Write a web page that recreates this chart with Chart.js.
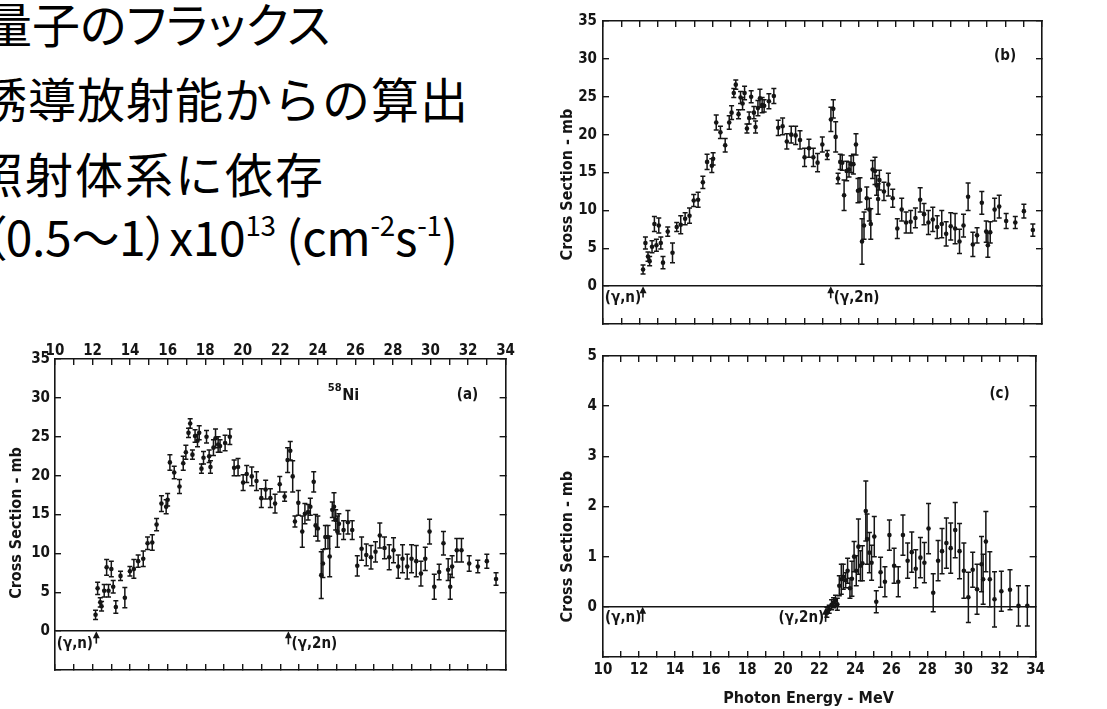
<!DOCTYPE html>
<html>
<head>
<meta charset="utf-8">
<script src="https://cdn.jsdelivr.net/npm/chart.js@4.4.0/dist/chart.umd.min.js"></script>
<style>
html, body { margin: 0; padding: 0; background: #fff; }
body { width: 1107px; height: 709px; position: relative; overflow: hidden; }
.jp { position: absolute; white-space: nowrap; font-family: "Noto Sans CJK JP", sans-serif; font-size: 48px; line-height: 1; color: #000; }
.jp sup { font-size: 0.58em; vertical-align: baseline; position: relative; top: -0.72em; }
.palt { font-feature-settings: "palt"; }
canvas { position: absolute; }
</style>
</head>
<body>
<div class="jp palt" style="left:-16px; top:-2px">量子のフラックス</div>
<div class="jp" style="left:-21px; top:73px; letter-spacing:1px">誘導放射能からの算出</div>
<div class="jp" style="left:-25px; top:148px; letter-spacing:2px">照射体系に依存</div>
<div class="jp palt" style="left:-18px; top:211px; letter-spacing:-0.3px">（0.5〜1）x10<sup>13</sup> (cm<sup>-2</sup>s<sup>-1</sup>)</div>

<canvas id="chartA" width="520" height="389" style="left:0; top:320px"></canvas>
<canvas id="chartB" width="510" height="345" style="left:545px; top:0"></canvas>
<canvas id="chartC" width="510" height="374" style="left:545px; top:335px"></canvas>

<script>
// (a) 58Ni total photoneutron cross section
const aEnergy = [12.16,12.27,12.41,12.48,12.62,12.75,12.85,13.0,13.1,13.24,
    13.49,13.72,13.99,14.2,14.43,14.7,14.93,15.18,15.41,15.67,
    15.92,16.0,16.12,16.35,16.63,16.83,16.97,17.11,17.2,17.32,
    17.46,17.59,17.68,17.8,17.91,18.07,18.21,18.28,18.44,18.55,
    18.69,18.79,19.06,19.31,19.54,19.75,20.02,20.21,20.48,20.73,
    20.99,21.22,21.47,21.72,21.97,22.23,22.39,22.53,22.66,22.78,
    22.96,23.17,23.31,23.48,23.6,23.78,23.88,24.0,24.18,24.27,
    24.4,24.54,24.63,24.77,24.86,24.95,25.04,25.12,25.37,25.6,
    25.83,26.1,26.33,26.58,26.83,27.07,27.3,27.55,27.8,28.03,
    28.28,28.51,28.76,28.99,29.24,29.49,29.72,29.95,30.2,30.46,
    30.69,30.94,31.05,31.15,31.4,31.65,32.06,32.52,33.0,33.49];
const aSigma = [2.1,5.5,3.7,3.2,5.2,8.2,5.2,8.0,5.7,3.1,
    7.1,4.3,7.7,8.0,9.0,9.3,11.3,11.4,13.7,16.4,
    16.0,16.9,21.7,20.4,18.6,21.6,23.0,25.5,26.7,22.7,
    25.1,24.5,25.5,20.9,22.3,25.0,22.5,21.1,23.6,24.8,
    24.0,23.8,24.2,25.0,21.0,21.1,19.1,20.2,19.9,19.3,
    17.1,18.2,17.1,16.4,18.9,17.3,22.0,23.2,19.9,14.1,
    16.5,12.8,15.1,15.3,16.0,19.2,13.6,13.2,7.2,8.7,
    12.1,12.1,9.6,15.6,16.0,14.3,12.8,13.8,13.0,14.0,
    13.0,8.4,10.6,9.8,9.5,10.2,12.3,10.7,9.5,10.4,
    8.3,9.3,8.3,9.3,9.0,7.4,9.3,12.8,5.7,7.6,
    11.3,7.9,5.7,8.3,10.4,10.4,8.7,8.3,9.0,6.7];
const aError = [0.6,0.8,0.6,0.6,0.8,1.0,0.8,1.0,0.8,0.8,
    0.6,1.3,0.6,1.2,0.8,1.0,0.8,1.0,0.8,1.0,
    0.9,0.8,1.0,0.8,0.9,0.9,0.9,0.6,0.6,0.6,
    0.8,0.8,0.9,0.6,0.8,0.8,0.8,0.8,1.0,1.2,
    1.0,0.8,1.0,1.0,1.0,1.1,1.0,1.1,1.2,1.2,
    1.2,1.2,1.2,1.2,1.0,0.6,1.6,1.2,2.0,0.7,
    1.6,2.0,1.3,1.0,1.1,1.3,1.4,1.6,3.0,1.8,
    1.5,1.5,2.6,1.0,1.8,1.3,2.0,1.3,1.2,1.5,
    1.2,1.3,1.5,1.4,1.5,1.3,1.6,1.4,1.6,1.6,
    1.5,1.8,1.6,1.8,2.0,1.6,1.5,1.6,1.6,1.0,
    1.5,1.4,1.6,1.4,1.5,1.5,1.0,0.8,0.9,0.8];

// (b) (γ,n)
const bEnergy = [12.19,12.32,12.46,12.55,12.68,12.81,12.92,13.05,13.16,13.28,
    13.54,13.8,14.03,14.25,14.49,14.73,14.96,15.2,15.46,15.69,
    15.95,16.02,16.19,16.42,16.68,16.9,17.03,17.15,17.26,17.41,
    17.52,17.63,17.74,17.87,17.99,18.1,18.25,18.34,18.47,18.58,
    18.7,18.81,19.07,19.34,19.58,19.82,20.05,20.29,20.53,20.77,
    21.02,21.26,21.5,21.73,21.99,22.26,22.46,22.59,22.72,22.85,
    22.97,23.08,23.18,23.32,23.45,23.56,23.69,23.83,23.94,24.05,
    24.16,24.27,24.42,24.56,24.64,24.74,24.87,24.96,25.04,25.11,
    25.36,25.6,25.84,26.09,26.33,26.57,26.82,27.08,27.34,27.55,
    27.79,28.03,28.27,28.52,28.76,29.01,29.25,29.49,29.71,29.96,
    30.22,30.45,30.71,30.95,31.04,31.17,31.41,31.66,32.04,32.54,
    33.01,33.5];
const bSigma = [2.2,5.7,3.9,3.3,5.2,8.2,5.4,8.0,5.7,3.1,
    7.2,4.4,7.8,8.1,8.9,9.3,11.3,11.4,13.7,16.4,
    15.9,16.8,21.6,20.3,18.6,21.6,22.9,25.5,26.6,22.7,
    24.9,24.1,25.5,20.8,22.2,25.0,22.9,21.0,23.5,24.8,
    23.9,23.8,24.4,25.1,20.9,21.1,19.1,20.0,19.9,19.3,
    17.0,18.2,17.0,16.3,18.7,17.3,22.0,23.4,19.7,14.2,
    16.4,16.3,12.0,15.2,15.4,16.1,16.1,18.7,12.6,12.7,
    5.9,8.0,11.6,10.1,8.2,15.4,15.2,13.3,11.5,14.0,
    12.5,13.4,11.6,7.6,10.1,8.4,8.5,9.0,11.4,9.5,
    8.4,8.8,7.8,8.2,6.9,7.9,7.6,5.9,8.0,11.8,
    5.5,6.7,11.0,7.2,5.4,7.1,10.1,10.5,8.6,8.4,
    9.9,7.4];
const bError = [0.6,0.8,0.6,0.6,0.8,1.0,0.8,1.0,0.8,0.8,
    0.6,1.3,0.6,1.2,0.8,1.0,0.8,1.0,0.8,1.0,
    0.9,0.8,1.0,0.8,0.9,0.9,0.9,0.6,0.6,0.6,
    0.8,0.8,0.9,0.6,0.8,0.8,0.8,0.8,1.0,1.2,
    1.0,0.8,1.0,1.0,1.0,1.1,1.0,1.1,1.2,1.2,
    1.2,1.2,1.2,1.2,1.0,0.6,1.6,1.2,2.0,0.7,
    1.0,1.0,2.0,1.3,1.0,1.1,1.3,1.4,1.6,1.6,
    3.0,1.8,1.5,1.5,2.0,1.2,1.8,1.3,2.0,1.3,
    1.2,1.5,1.2,1.3,1.5,1.4,1.5,1.3,1.6,1.4,
    1.6,1.6,1.5,1.8,1.6,1.8,2.0,1.6,1.5,1.8,
    1.6,1.0,1.5,1.4,1.6,1.4,1.5,1.5,1.0,0.8,
    0.9,0.8];

// (c) (γ,2n)
const cEnergy = [22.42,22.55,22.68,22.79,22.9,23.0,23.11,23.22,23.33,23.46,
    23.57,23.7,23.81,23.93,24.05,24.17,24.28,24.39,24.58,24.65,
    24.78,24.9,25.05,25.16,25.4,25.64,25.89,26.15,26.38,26.64,
    26.9,27.13,27.35,27.61,27.83,28.06,28.32,28.59,28.81,29.05,
    29.29,29.54,29.78,30.02,30.27,30.51,30.75,31.0,31.09,31.24,
    31.46,31.72,32.1,32.58,33.05,33.54];
const cSigma = [-0.11,-0.05,0.04,0.08,0.13,0.05,0.42,0.55,0.6,0.53,
    0.72,0.37,0.56,1.0,0.72,1.2,0.82,0.87,1.91,1.35,
    1.08,0.88,1.4,0.1,0.69,0.5,1.43,0.82,0.5,1.43,
    0.92,1.09,0.76,0.98,0.88,1.56,0.28,0.92,1.11,1.27,
    1.17,1.53,1.11,0.72,0.19,0.74,0.35,0.85,0.55,1.3,
    0.55,0.15,0.31,0.34,0.02,0.02];
const cError = [0.1,0.08,0.1,0.1,0.1,0.12,0.2,0.3,0.25,0.15,
    0.25,0.2,0.35,0.3,0.3,0.55,0.3,0.35,0.6,0.5,
    0.4,0.35,0.4,0.22,0.3,0.3,0.3,0.35,0.3,0.4,
    0.35,0.4,0.38,0.4,0.4,0.5,0.38,0.4,0.45,0.5,
    0.5,0.55,0.55,0.55,0.5,0.35,0.5,0.55,0.5,0.6,
    0.55,0.55,0.4,0.4,0.4,0.4];

const energyTicks = [10, 34, 1];      // min, max, step (labels every 2 MeV)

const INK = '#151515';
const FONT = '"Liberation Sans Narrow", "DejaVu Sans Condensed", "Roboto Condensed", "DejaVu Sans", sans-serif';

// vertical error bars with small caps
const errorBars = {
    id: 'errorBars',
    afterDatasetsDraw(chart) {
        const ctx = chart.ctx;
        const xs = chart.scales.x, ys = chart.scales.y;
        ctx.save();
        ctx.strokeStyle = INK;
        ctx.lineWidth = 1.5;
        chart.data.datasets.forEach(ds => {
            ds.data.forEach(p => {
                const px = xs.getPixelForValue(p.x);
                const lo = ys.getPixelForValue(p.y - p.err);
                const hi = ys.getPixelForValue(p.y + p.err);
                ctx.beginPath();
                ctx.moveTo(px, lo); ctx.lineTo(px, hi);
                ctx.moveTo(px - 2.5, lo); ctx.lineTo(px + 2.5, lo);
                ctx.moveTo(px - 2.5, hi); ctx.lineTo(px + 2.5, hi);
                ctx.stroke();
            });
        });
        ctx.restore();
    }
};

// text labels, threshold arrows and axis titles
function notesPlugin(notes) {
    return {
        id: 'notes',
        afterDraw(chart) {
            const ctx = chart.ctx;
            const xs = chart.scales.x, ys = chart.scales.y;
            ctx.save();
            ctx.fillStyle = INK;
            ctx.strokeStyle = INK;
            notes.forEach(n => {
                const px = n.px !== undefined ? n.px : xs.getPixelForValue(n.x);
                if (n.arrow) {
                    const y0 = ys.getPixelForValue(n.y0), y1 = ys.getPixelForValue(n.y1);
                    ctx.lineWidth = 1.6;
                    ctx.beginPath(); ctx.moveTo(px, y0); ctx.lineTo(px, y1 + 5); ctx.stroke();
                    ctx.beginPath(); ctx.moveTo(px, y1); ctx.lineTo(px - 3.5, y1 + 7); ctx.lineTo(px + 3.5, y1 + 7); ctx.closePath(); ctx.fill();
                    return;
                }
                const py = ys.getPixelForValue(n.y);
                ctx.font = 'bold ' + n.size + 'px ' + FONT;
                ctx.textAlign = n.align || 'center';
                ctx.textBaseline = 'middle';
                if (n.rot) {
                    ctx.save();
                    ctx.translate(px, py);
                    ctx.rotate(-Math.PI / 2);
                    ctx.fillText(n.t, 0, 0);
                    ctx.restore();
                } else {
                    ctx.fillText(n.t, px, py);
                }
            });
            ctx.restore();
        }
    };
}

function buildChart(id, o) {
    const points = o.energy.map((e, i) => ({ x: e, y: o.sigma[i], err: o.error[i] }));
    const tickFont = { family: FONT, size: 15, weight: 'bold' };
    const frame = { display: true, color: INK, width: 1.6 };
    const marks = { drawOnChartArea: false, tickLength: -6, tickColor: INK, lineWidth: 1.4 };
    const xOther = o.xPos === 'top' ? 'bottom' : 'top';
    return new Chart(document.getElementById(id), {
        type: 'scatter',
        data: {
            datasets: [{
                data: points,
                pointRadius: 2.3,
                pointHoverRadius: 2.3,
                pointBackgroundColor: INK,
                pointBorderWidth: 0
            }]
        },
        options: {
            responsive: false,
            animation: false,
            devicePixelRatio: 1,
            events: [],
            layout: { padding: { left: 0, right: o.padRight, top: 0, bottom: 0 } },
            plugins: { legend: { display: false }, tooltip: { enabled: false } },
            scales: {
                x: {
                    type: 'linear', position: o.xPos,
                    min: energyTicks[0], max: energyTicks[1],
                    ticks: {
                        display: o.xLabels, stepSize: energyTicks[2], autoSkip: false, maxRotation: 0,
                        padding: o.xPad, color: INK, font: tickFont,
                        callback: v => (v % 2 === 0 ? String(v) : '')
                    },
                    grid: marks, border: frame,
                    afterFit(s) { s.height = o.xH; }
                },
                x2: {
                    type: 'linear', axis: 'x', position: xOther,
                    min: energyTicks[0], max: energyTicks[1],
                    ticks: { display: false, stepSize: energyTicks[2], autoSkip: false },
                    grid: marks, border: frame,
                    afterFit(s) { s.height = o.x2H; }
                },
                y: {
                    type: 'linear', position: 'left',
                    min: o.yTicks[0], max: o.yTicks[1],
                    ticks: {
                        stepSize: o.yTicks[2], autoSkip: false, padding: o.yPad, color: INK, font: tickFont,
                        callback: v => (v >= 0 ? String(v) : '')
                    },
                    grid: {
                        drawOnChartArea: true, tickLength: -6, tickColor: INK, lineWidth: 1.4,
                        color: c => (c.tick && c.tick.value === 0 ? INK : 'rgba(0,0,0,0)')
                    },
                    border: frame,
                    afterFit(s) { s.width = o.yW; }
                },
                y2: {
                    type: 'linear', axis: 'y', position: 'right',
                    min: o.yTicks[0], max: o.yTicks[1],
                    ticks: { display: false, stepSize: o.yTicks[2], autoSkip: false },
                    grid: marks, border: frame,
                    afterFit(s) { s.width = 0; }
                }
            }
        },
        plugins: [errorBars, notesPlugin(o.notes)]
    });
}

buildChart('chartA', {
    energy: aEnergy, sigma: aSigma, error: aError,
    yTicks: [-5, 35, 5], xPos: 'top', xLabels: true,
    xH: 39, x2H: 39, yW: 55, padRight: 14, xPad: 5, yPad: 11,
    notes: [
        { t: '58', x: 24.9, y: 31.2, size: 11 },
        { t: 'Ni', x: 25.3, y: 30.2, size: 16, align: 'left' },
        { t: '(a)', x: 31.97, y: 30.3, size: 15 },
        { t: '(γ,n)', x: 11.06, y: -1.7, size: 15 },
        { arrow: true, x: 12.2, y0: -1.6, y1: 0 },
        { arrow: true, x: 22.43, y0: -1.7, y1: 0 },
        { t: '(γ,2n)', x: 22.6, y: -1.7, size: 15, align: 'left' },
        { t: 'Cross Section - mb', px: 17, y: 13.9, size: 16, rot: true }
    ]
});

buildChart('chartB', {
    energy: bEnergy, sigma: bSigma, error: bError,
    yTicks: [-5, 35, 5], xPos: 'bottom', xLabels: false,
    xH: 14, x2H: 18, yW: 58, padRight: 13, xPad: 0, yPad: 12,
    notes: [
        { t: '(b)', x: 31.98, y: 30.3, size: 15 },
        { t: '(γ,n)', x: 11.09, y: -1.55, size: 15 },
        { arrow: true, x: 12.19, y0: -1.5, y1: 0 },
        { arrow: true, x: 22.45, y0: -1.6, y1: 0 },
        { t: '(γ,2n)', x: 22.62, y: -1.55, size: 15, align: 'left' },
        { t: 'Cross Section - mb', px: 23, y: 13.4, size: 16, rot: true }
    ]
});

buildChart('chartC', {
    energy: cEnergy, sigma: cSigma, error: cError,
    yTicks: [-1, 5, 1], xPos: 'bottom', xLabels: true,
    xH: 52, x2H: 11, yW: 58, padRight: 14, xPad: 10, yPad: 12,
    notes: [
        { t: '(c)', x: 32.0, y: 4.25, size: 15 },
        { t: '(γ,n)', x: 11.12, y: -0.23, size: 15 },
        { arrow: true, x: 12.2, y0: -0.3, y1: 0 },
        { t: '(γ,2n)', x: 22.27, y: -0.23, size: 15, align: 'right' },
        { arrow: true, x: 22.35, y0: -0.3, y1: -0.02 },
        { t: 'Cross Section - mb', px: 23, y: 1.2, size: 16, rot: true },
        { t: 'Photon Energy - MeV', x: 21.4, y: -1.83, size: 16 }
    ]
});
</script>
</body>
</html>
